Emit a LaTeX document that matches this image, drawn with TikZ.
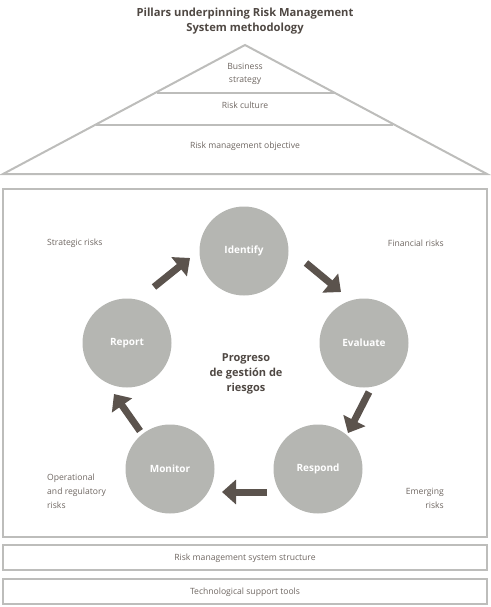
\documentclass[tikz,border=0pt]{standalone}
\usepackage{fontspec}
\setmainfont{Open Sans}
\usetikzlibrary{arrows.meta}
\definecolor{linegray}{HTML}{BDBDBB}
\definecolor{txtgray}{HTML}{6E6661}
\definecolor{darkbr}{HTML}{5B534D}
\definecolor{circgray}{HTML}{B5B6B2}
\definecolor{titlec}{HTML}{4F4843}
\tikzset{
  frame/.style={draw=linegray, line width=2pt},
  small/.style={text=txtgray, font=\fontsize{8.6}{14}\selectfont, inner sep=0pt},
  stage/.style={circle, fill=circgray, minimum size=89pt, inner sep=0pt, text=white, font=\bfseries\fontsize{10}{12}\selectfont},
  bigarrow/.style={draw=darkbr, line width=7pt, -{Triangle[width=24pt,length=14pt]}, fill=darkbr},
}
\begin{document}
\begin{tikzpicture}[x=1pt,y=-1pt]
\useasboundingbox (0,0) rectangle (490,607);
% title
\node[text=titlec, font=\bfseries\fontsize{11.2}{15}\selectfont, align=center, inner sep=0pt] (title) at (245,21) {Pillars underpinning Risk Management\\System methodology};
% roof
\coordinate (apex) at (245,45);
\coordinate (bl) at (3,174);
\coordinate (br) at (487,174);
\draw[frame, line join=miter] (apex) -- (br) -- (bl) -- cycle;
\draw[frame] (157,93) -- (335,93);
\draw[frame] (96,125) -- (393,125);
\node[small, align=center, font=\fontsize{8.6}{12.5}\selectfont] (bs) at (245,74) {Business\\strategy};
\node[small] (rc) at (245,105) {Risk culture};
\node[small] (rmo) at (245,146) {Risk management objective};
% main frame
\draw[frame] (3,189) rectangle (487,537);
\draw[frame] (3,545) rectangle (487,570);
\node[small] (rms) at (245,558) {Risk management system structure};
\draw[frame] (3,579) rectangle (487,604);
\node[small] (tst) at (245,592) {Technological support tools};
% circles
\node[stage] (identify) at (244,251) {Identify};
\node[stage] (evaluate) at (364,343) {Evaluate};
\node[stage] (respond) at (318,469) {Respond};
\node[stage] (monitor) at (170,469) {Monitor};
\node[stage] (report) at (127,343) {Report};
% center
\node[text=titlec, font=\bfseries\fontsize{11}{15}\selectfont, align=center, inner sep=0pt] (prog) at (246,374) {Progreso\\de gestión de\\riesgos};
% risk labels
\node[small, anchor=west] (strat) at (47,243) {Strategic risks};
\node[small, anchor=east] (fin) at (444,243) {Financial risks};
\node[small, anchor=west, align=left] (oper) at (47,491) {Operational\\and regulatory\\risks};
\node[small, anchor=east, align=right] (emer) at (444,498) {Emerging\\risks};
% arrows
\coordinate (a1s) at (154,287); \coordinate (a1e) at (190,258);
\coordinate (a2s) at (306,263); \coordinate (a2e) at (341,292);
\coordinate (a3s) at (369,392); \coordinate (a3e) at (348,433);
\coordinate (a4s) at (267,492); \coordinate (a4e) at (222,492);
\coordinate (a5s) at (140,431); \coordinate (a5e) at (114,394);
\draw[bigarrow] (a1s) -- (a1e);
\draw[bigarrow] (a2s) -- (a2e);
\draw[bigarrow] (a3s) -- (a3e);
\draw[bigarrow] (a4s) -- (a4e);
\draw[bigarrow] (a5s) -- (a5e);
\end{tikzpicture}
\end{document}
